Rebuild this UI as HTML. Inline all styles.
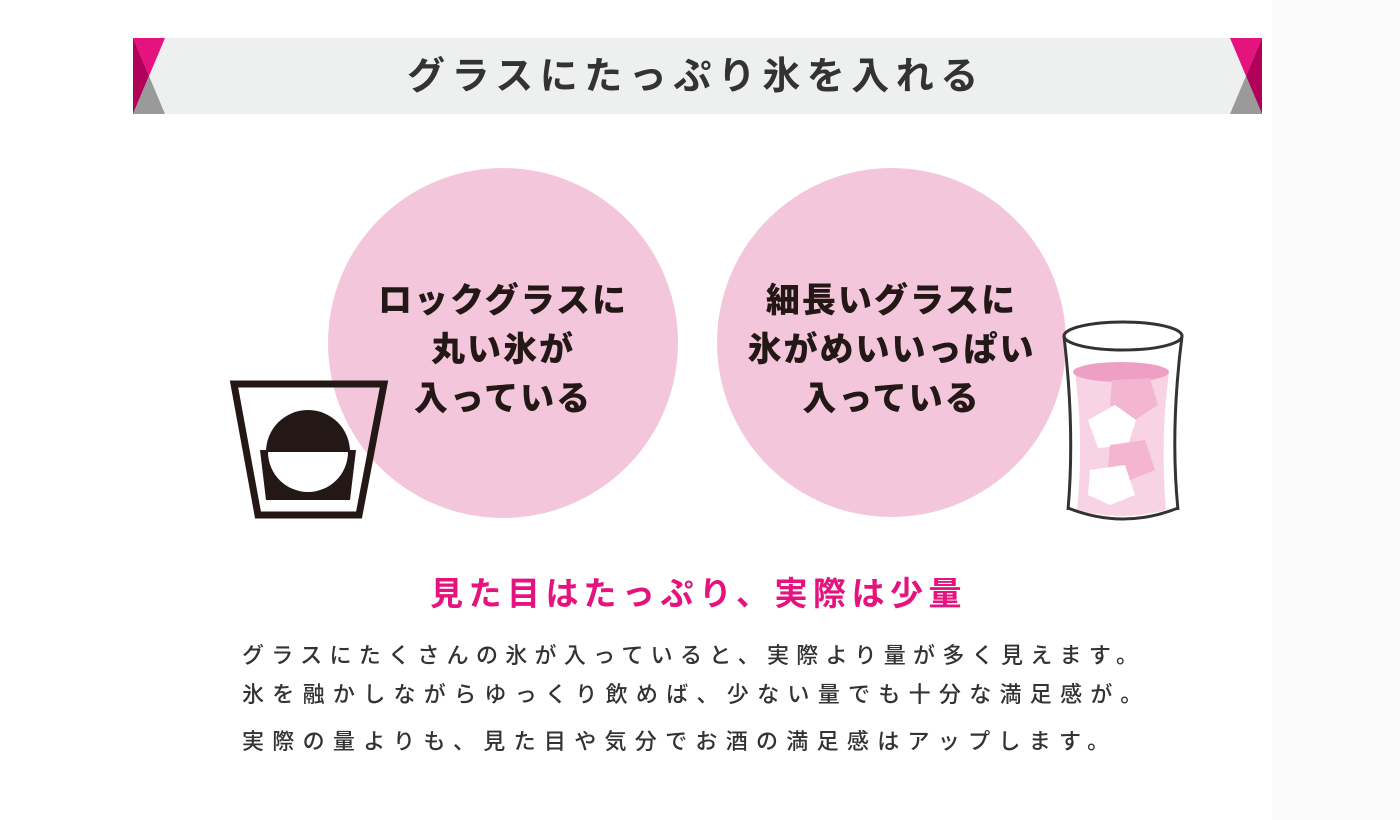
<!DOCTYPE html>
<html><head><meta charset="utf-8"><style>
body{margin:0;width:1400px;height:820px;background:#fff;position:relative;overflow:hidden;font-family:"Liberation Sans","Noto Sans CJK JP",sans-serif;}
.t{position:absolute;white-space:nowrap;line-height:1;}
.c{position:absolute;border-radius:50%;background:#f4c6dc;}
.ct{position:absolute;text-align:center;font-weight:900;font-size:34px;color:#231815;line-height:49px;letter-spacing:2px;}
.b{font-size:22px;color:#333;left:242px;font-weight:500;}
</style></head><body>
<div style="position:absolute;left:1272px;top:0;width:128px;height:820px;background:#fbfbfb"></div>
<div style="position:absolute;left:133px;top:38px;width:1129px;height:76px;background:#eeefef"></div>
<svg style="position:absolute;left:0;top:0" width="1400" height="820">
<polygon points="133,38 165,38 149,76" fill="#e5137e"/>
<polygon points="133,38 149,76 133,114" fill="#b0005a"/>
<polygon points="133,114 149,76 165,114" fill="#9a9a9a"/>
<polygon points="1262,38 1230,38 1246,76" fill="#e5137e"/>
<polygon points="1262,38 1246,76 1262,114" fill="#b0005a"/>
<polygon points="1262,114 1246,76 1230,114" fill="#9a9a9a"/>
</svg>
<div class="t" style="left:407px;top:58px;font-size:38px;font-weight:bold;color:#333;letter-spacing:6.5px;">グラスにたっぷり氷を入れる</div>
<div class="c" style="left:328px;top:168px;width:350px;height:350px"></div>
<div class="c" style="left:717px;top:168px;width:349px;height:349px"></div>
<svg style="position:absolute;left:0;top:0" width="1400" height="820">
<polygon points="234,384 384,384 359,515 258,515" fill="none" stroke="#231815" stroke-width="7"/>
<polygon points="260,450 356,450 350,500 266,500" fill="#231815"/>
<circle cx="308" cy="452" r="42" fill="#231815"/>
<path d="M268,452 A40,40 0 0 0 348,452 Z" fill="#fff"/>
<path d="M1070,360 Q1080,430 1072,515 L1172,515 Q1165,430 1176,360 Z" fill="#fff"/>
<path d="M1075,372 Q1084,440 1077,510 Q1122,522 1166,510 Q1160,440 1169,372 Z" fill="#f8d3e4"/>
<ellipse cx="1121" cy="372" rx="48" ry="10" fill="#ee9fc4"/>
<polygon points="1112,380 1150,378 1158,405 1135,420 1110,405" fill="#f3b5d0"/>
<polygon points="1088,420 1115,405 1136,420 1128,445 1098,448" fill="#fff"/>
<polygon points="1110,445 1145,440 1155,470 1130,480 1108,470" fill="#f3b5d0"/>
<polygon points="1090,470 1125,465 1135,495 1110,505 1088,495" fill="#fff"/>
<ellipse cx="1123" cy="336" rx="59" ry="14" fill="none" stroke="#333" stroke-width="3"/>
<path d="M1064,336 Q1075,430 1068,510" fill="none" stroke="#333" stroke-width="3"/>
<path d="M1182,336 Q1170,430 1178,510" fill="none" stroke="#333" stroke-width="3"/>
<path d="M1068,508 Q1123,530 1178,508" fill="none" stroke="#333" stroke-width="3"/>
</svg>
<div class="ct" style="left:328px;top:277px;width:350px">ロックグラスに<br>丸い氷が<br>入っている</div>
<div class="ct" style="left:717px;top:277px;width:349px">細長いグラスに<br>氷がめいいっぱい<br>入っている</div>
<div class="t" style="left:430px;top:577px;font-size:33px;font-weight:bold;color:#e5137e;letter-spacing:5.5px;">見た目はたっぷり、実際は少量</div>
<div class="t b" style="top:645px;letter-spacing:7.3px;">グラスにたくさんの氷が入っていると、実際より量が多く見えます。</div>
<div class="t b" style="top:684px;letter-spacing:8.3px;">氷を融かしながらゆっくり飲めば、少ない量でも十分な満足感が。</div>
<div class="t b" style="top:731px;letter-spacing:8.3px;">実際の量よりも、見た目や気分でお酒の満足感はアップします。</div>
</body></html>
